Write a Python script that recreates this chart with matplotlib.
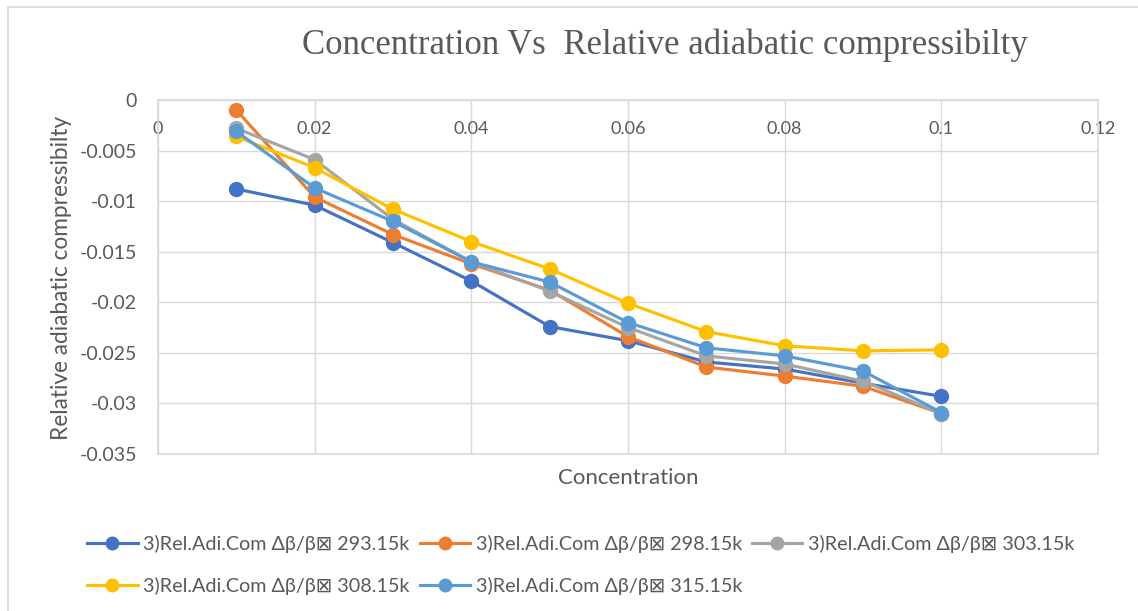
import matplotlib
matplotlib.use("Agg")
import matplotlib.pyplot as plt
from matplotlib.patches import Rectangle

# Concentration (x) values
concentration = [0.01, 0.02, 0.03, 0.04, 0.05, 0.06, 0.07, 0.08, 0.09, 0.10]

# Relative adiabatic compressibility at each temperature
rac_293 = [-0.0088, -0.0104, -0.0141, -0.0179, -0.0224, -0.0238, -0.0259, -0.0266, -0.0280, -0.0293]
rac_298 = [-0.0010, -0.0096, -0.0133, -0.0162, -0.0188, -0.0234, -0.0264, -0.0273, -0.0283, -0.0310]
rac_303 = [-0.0028, -0.0059, -0.0118, -0.0160, -0.0189, -0.0225, -0.0253, -0.0261, -0.0278, -0.0310]
rac_308 = [-0.0036, -0.0067, -0.0108, -0.0140, -0.0167, -0.0201, -0.0229, -0.0243, -0.0248, -0.0247]
rac_315 = [-0.0031, -0.0087, -0.0120, -0.0160, -0.0180, -0.0220, -0.0245, -0.0253, -0.0268, -0.0309]

series_labels = [
    "3)Rel.Adi.Com \u0394\u03b2/\u03b2\u22a0 293.15k",
    "3)Rel.Adi.Com \u0394\u03b2/\u03b2\u22a0 298.15k",
    "3)Rel.Adi.Com \u0394\u03b2/\u03b2\u22a0 303.15k",
    "3)Rel.Adi.Com \u0394\u03b2/\u03b2\u22a0 308.15k",
    "3)Rel.Adi.Com \u0394\u03b2/\u03b2\u22a0 315.15k",
]
series_colors = ["#4472C4", "#ED7D31", "#A5A5A5", "#FFC000", "#5B9BD5"]

x_ticks = [0, 0.02, 0.04, 0.06, 0.08, 0.10, 0.12]
x_tick_labels = ["0", "0.02", "0.04", "0.06", "0.08", "0.1", "0.12"]
y_ticks = [0, -0.005, -0.01, -0.015, -0.02, -0.025, -0.03, -0.035]
y_tick_labels = ["0", "-0.005", "-0.01", "-0.015", "-0.02", "-0.025", "-0.03", "-0.035"]

title_text = "Concentration Vs  Relative adiabatic compressibilty"
x_label_text = "Concentration"
y_label_text = "Relative adiabatic compressibilty"

TEXT = "#595959"
GRID = "#D9D9D9"
plt.rcParams["font.family"] = ["Lato", "DejaVu Sans"]

fig = plt.figure(figsize=(11.38, 6.11), dpi=100)
fig.patch.set_facecolor("white")

# chart-area frame
fig.patches.append(Rectangle((8 / 1138, -0.1), 1.2, 1 - 7 / 611 + 0.1,
                             transform=fig.transFigure, fill=False,
                             edgecolor=GRID, linewidth=1.2))

ax = fig.add_axes([158 / 1138, 1 - 454 / 611, 940 / 1138, 354 / 611])

all_series = [rac_293, rac_298, rac_303, rac_308, rac_315]
handles = []
for values, color, label in zip(all_series, series_colors, series_labels):
    h, = ax.plot(concentration, values, color=color, linewidth=2.25,
                 marker="o", markersize=10, label=label, clip_on=False)
    handles.append(h)

ax.set_xlim(0, 0.12)
ax.set_ylim(-0.035, 0)
ax.set_xticks(x_ticks)
ax.set_xticklabels(x_tick_labels)
ax.set_yticks(y_ticks)
ax.set_yticklabels(y_tick_labels)

ax.xaxis.set_ticks_position("top")
ax.tick_params(axis="x", length=0, labeltop=True, labelbottom=False,
               pad=-27, labelsize=13, labelcolor=TEXT)
ax.tick_params(axis="y", length=0, pad=15, labelsize=14, labelcolor=TEXT)

ax.grid(True, color=GRID, linewidth=1.0)
ax.set_axisbelow(True)
for sp in ax.spines.values():
    sp.set_color(GRID)
    sp.set_linewidth(1.2)

ax.xaxis.set_label_position("bottom")
ax.set_xlabel(x_label_text, fontsize=16, color=TEXT, labelpad=10)
ax.set_ylabel(y_label_text, fontsize=16.3, color=TEXT)
ax.yaxis.set_label_coords(-0.092, 0.497)

fig.text(0.584, 1 - 45 / 611, title_text, ha="center", va="center",
         fontsize=25, color=TEXT, family=["Liberation Serif", "DejaVu Serif"])

# legend filled row by row: 293, 298, 303 / 308, 315
order = [0, 3, 1, 4, 2]
fig.legend([handles[i] for i in order], [series_labels[i] for i in order],
           loc="center", bbox_to_anchor=(581 / 1138, 1 - 565 / 611),
           ncol=3, frameon=False, fontsize=14.2, labelcolor=TEXT,
           handlelength=2.55, handletextpad=0.3, columnspacing=0.5,
           labelspacing=1.25, markerscale=0.9)

fig.savefig("out.png", dpi=100, facecolor="white")
